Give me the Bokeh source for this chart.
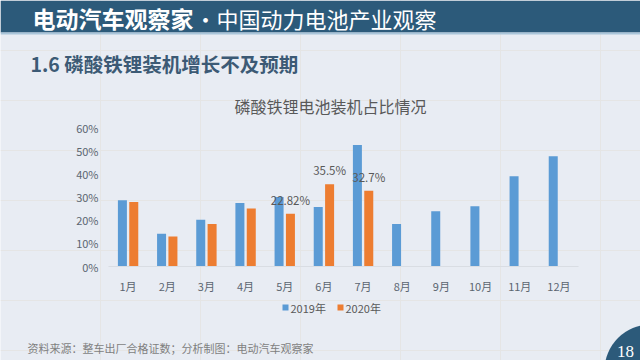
from bokeh.plotting import figure
from bokeh.models import (ColumnDataSource, Range1d, FixedTicker, LinearAxis,
                          NumeralTickFormatter, LabelSet, Label)
from bokeh.transform import dodge
from bokeh.core.properties import value
from bokeh.embed import file_html
from bokeh.resources import INLINE

# ---------------- data ----------------
months = ["1月", "2月", "3月", "4月", "5月", "6月", "7月", "8月", "9月", "10月", "11月", "12月"]
share_2019 = [0.286, 0.141, 0.202, 0.274, 0.300, 0.257, 0.524, 0.183, 0.238, 0.260, 0.390, 0.476]
share_2020 = [0.278, 0.130, 0.183, 0.250, 0.2282, 0.355, 0.327]
labels_2020 = ["", "", "", "", "22.82%", "35.5%", "32.7%"]
y_ticks = [0, 0.1, 0.2, 0.3, 0.4, 0.5, 0.6]
series_names = ["2019年", "2020年"]

header_bold = "电动汽车观察家"
header_rest = "·中国动力电池产业观察"
page_title = "1.6 磷酸铁锂装机增长不及预期"
chart_title = "磷酸铁锂电池装机占比情况"
footer = "资料来源：整车出厂合格证数；分析制图：电动汽车观察家"
page_no = "18"

# ---------------- style / layout ----------------
BG = "#e8ecf3"
HEAD = "#2c5a7a"
BLUE = "#5b9bd5"
ORANGE = "#ed7d31"
FONT = "Noto Sans CJK SC"
W, H = 640, 360
FL, FR, FT, FB = 108, 578, 127, 266      # chart frame on the page (px)
Y_MAX = y_ticks[-1]

x_idx = list(range(len(months)))
x_idx_2020 = x_idx[:len(share_2020)]

px_per_cat = (FR - FL) / len(months)
cx0 = -0.5 - FL / px_per_cat
cx1 = cx0 + W / px_per_cat
val_per_px = Y_MAX / (FB - FT)
cy0 = -(H - FB) * val_per_px
cy1 = Y_MAX + FT * val_per_px

p = figure(width=W, height=H, output_backend="svg", toolbar_location=None,
           x_range=Range1d(0, W), y_range=Range1d(H, 0),
           x_axis_location=None, y_axis_location=None, title=None, min_border=0,
           background_fill_color=BG, border_fill_color=BG, outline_line_color=None)
p.extra_x_ranges = {"cx": Range1d(cx0, cx1)}
p.extra_y_ranges = {"cy": Range1d(cy0, cy1)}


def lab(x, y, text, size, color, align="left", bold=False, font=FONT):
    p.add_layout(Label(x=x, y=y, text=text, text_font=font, text_font_size=size,
                       text_font_style="bold" if bold else "normal", text_color=color,
                       text_baseline="middle", text_align=align))


# ---------- header, page title, chart title ----------
p.quad(left=[0], right=[W], top=[0], bottom=[32], fill_color=HEAD, line_color=None)
p.quad(left=[0], right=[W], top=[32], bottom=[34], fill_color="#a9c5da", line_color=None)
lab(32, 17, header_bold, "23px", "white", bold=True)
lab(194, 17, header_rest, "22px", "white")
lab(30, 63, page_title, "19.5px", "#3c5a75", bold=True)
lab(330, 105, chart_title, "16px", "#595959", align="center")

# ---------- bar chart ----------
src19 = ColumnDataSource(dict(x=x_idx, v=share_2019))
src20 = ColumnDataSource(dict(x=x_idx_2020, v=share_2020, lab=labels_2020))

p.vbar(x=dodge("x", -0.145), top="v", width=0.23, source=src19,
       fill_color=BLUE, line_color=None, x_range_name="cx", y_range_name="cy")
p.vbar(x=dodge("x", 0.145), top="v", width=0.23, source=src20,
       fill_color=ORANGE, line_color=None, x_range_name="cx", y_range_name="cy")

p.add_layout(LabelSet(x=dodge("x", 0.145), y="v", text="lab", source=src20,
                      x_range_name="cx", y_range_name="cy",
                      y_offset=6, text_align="center", text_baseline="bottom",
                      text_font=value(FONT), text_font_size=value("11.5px"),
                      text_color="#595959"))

xaxis = LinearAxis(x_range_name="cx", y_range_name="cy", fixed_location=0,
                   bounds=(-0.5, len(months) - 0.5),
                   ticker=FixedTicker(ticks=x_idx),
                   major_label_overrides={i: m for i, m in zip(x_idx, months)})
xaxis.axis_line_color = "#d9dde3"
xaxis.major_tick_line_color = None
xaxis.minor_tick_line_color = None
xaxis.major_tick_out = 0
xaxis.major_tick_in = 0
xaxis.major_label_standoff = 11
xaxis.major_label_text_font = FONT
xaxis.major_label_text_font_size = "11px"
xaxis.major_label_text_color = "#5b6570"
p.add_layout(xaxis, "below")

yaxis = LinearAxis(x_range_name="cx", y_range_name="cy", fixed_location=-0.5,
                   bounds=(0, Y_MAX), ticker=FixedTicker(ticks=y_ticks),
                   formatter=NumeralTickFormatter(format="0%"))
yaxis.axis_line_color = None
yaxis.major_tick_line_color = None
yaxis.minor_tick_line_color = None
yaxis.major_tick_out = 0
yaxis.major_tick_in = 0
yaxis.major_label_standoff = 10
yaxis.major_label_text_font = FONT
yaxis.major_label_text_font_size = "11px"
yaxis.major_label_text_color = "#5b6570"
p.add_layout(yaxis, "left")

# ---------- legend, footer, page number ----------
p.quad(left=[282, 337], right=[288, 343], top=[304, 304], bottom=[310, 310],
       fill_color=[BLUE, ORANGE], line_color=None)
lab(290, 307, series_names[0], "11px", "#595959")
lab(345, 307, series_names[1], "11px", "#595959")
lab(27, 347, footer, "11px", "#7f7f7f")
p.circle(x=[650], y=[370], radius=46, fill_color=HEAD, line_color=None)
lab(625, 351, page_no, "17px", "white", align="center", font="Liberation Serif")

open("out.html", "w").write(file_html(p, INLINE))
